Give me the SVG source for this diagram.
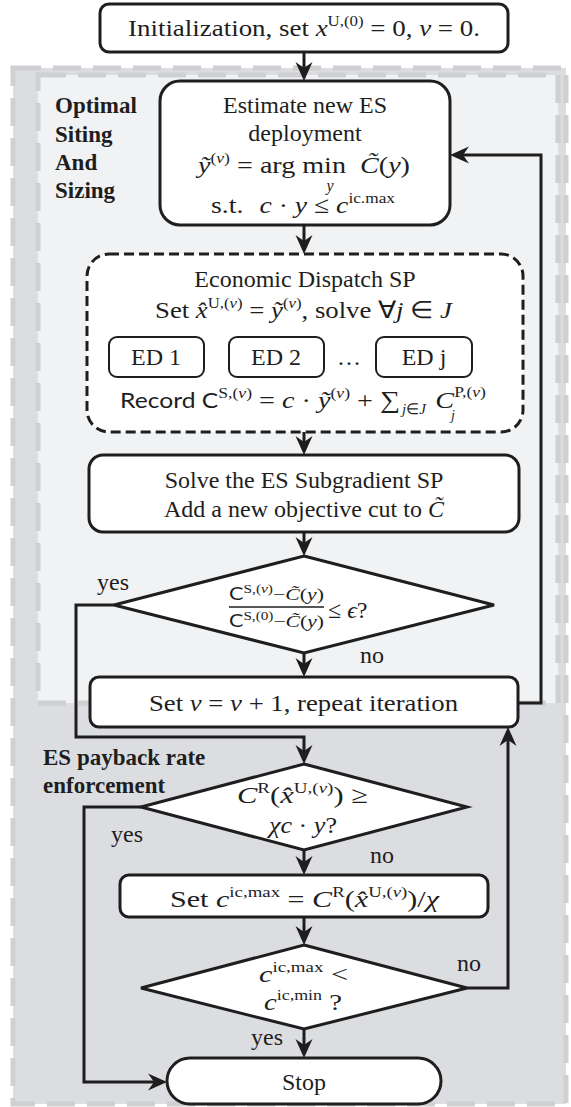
<svg xmlns="http://www.w3.org/2000/svg" width="571" height="1107" viewBox="0 0 571 1107">
<defs>
<style>
.t{font-family:"Liberation Serif",serif;font-size:24px;fill:#1e1e1e}
.i{font-style:italic}
.sup{font-size:15px}
.lbl{font-family:"Liberation Serif",serif;font-size:23px;font-weight:bold;fill:#1e1e1e}
.sans{font-family:Lato,"Liberation Sans",sans-serif}
.box{fill:#fff;stroke:#1e1e1e;stroke-width:3}
.edb{fill:#fff;stroke:#1e1e1e;stroke-width:2}
.conn{fill:none;stroke:#1e1e1e;stroke-width:3}
.rout{fill:#dcdde0;stroke:#cfd0d2;stroke-width:5;stroke-dasharray:28 12}
.rin{fill:#f1f2f4;stroke:#cfd0d2;stroke-width:5;stroke-dasharray:28 12}
</style>
<marker id="arr" viewBox="0 0 20 20" refX="12" refY="10" markerWidth="20" markerHeight="20" markerUnits="userSpaceOnUse" orient="auto">
<path d="M20,10 L1,1.5 L7,10 L1,18.5 Z" fill="#1e1e1e"/>
</marker>
</defs>

<g id="regions">
<rect class="rout" x="13" y="68" width="553" height="1036"/>
<rect class="rin" x="38" y="75" width="520" height="628"/>
<text class="lbl" x="55" y="113">Optimal</text>
<text class="lbl" x="55" y="142">Siting</text>
<text class="lbl" x="55" y="170">And</text>
<text class="lbl" x="55" y="198">Sizing</text>
<text class="lbl" x="43" y="765">ES payback rate</text>
<text class="lbl" x="43" y="793">enforcement</text>
</g>

<g id="connectors">
<path class="conn" d="M304,52 V73" marker-end="url(#arr)"/>
<path class="conn" d="M304,225 V246" marker-end="url(#arr)"/>
<path class="conn" d="M304,432 V447" marker-end="url(#arr)"/>
<path class="conn" d="M304,532 V548" marker-end="url(#arr)"/>
<path class="conn" d="M304,653 V669" marker-end="url(#arr)"/>
<path class="conn" d="M114,605 H76 V737 H304 V756" marker-end="url(#arr)"/>
<path class="conn" d="M518,703 H541 V155 H458" marker-end="url(#arr)"/>
<path class="conn" d="M304,850 V867" marker-end="url(#arr)"/>
<path class="conn" d="M304,917 V937" marker-end="url(#arr)"/>
<path class="conn" d="M304,1029 V1050" marker-end="url(#arr)"/>
<path class="conn" d="M141,807 H84 V1082 H159" marker-end="url(#arr)"/>
<path class="conn" d="M467,988 H508 V735" marker-end="url(#arr)"/>
<text class="t" x="97" y="590">yes</text>
<text class="t" x="360" y="663">no</text>
<text class="t" x="111" y="842">yes</text>
<text class="t" x="370" y="863">no</text>
<text class="t" x="251" y="1045">yes</text>
<text class="t" x="457" y="971">no</text>
</g>

<g id="n-init">
<rect class="box" x="100" y="4" width="408" height="48" rx="9"/>
<text class="t" x="128" y="36" textLength="352" lengthAdjust="spacingAndGlyphs">Initialization, set <tspan class="i">x</tspan><tspan class="sup" dy="-10">U,(0)</tspan><tspan dy="10"> = 0, </tspan><tspan class="i">ν</tspan> = 0.</text>
</g>

<g id="n-estimate">
<rect class="box" x="160" y="81" width="290" height="144" rx="20"/>
<text class="t" x="305" y="113" text-anchor="middle">Estimate new ES</text>
<text class="t" x="305" y="141" text-anchor="middle">deployment</text>
<text class="t" x="198" y="173" textLength="212" lengthAdjust="spacingAndGlyphs"><tspan class="i">ỹ</tspan><tspan class="sup" dy="-10">(<tspan class="i">ν</tspan>)</tspan><tspan dy="10"> = arg min </tspan><tspan class="i" dx="6">C̃</tspan>(<tspan class="i">y</tspan>)</text>
<text class="t i" x="330" y="191" style="font-size:16px" text-anchor="middle">y</text>
<text class="t" x="211" y="213" textLength="184" lengthAdjust="spacingAndGlyphs">s.t. <tspan class="i" dx="8">c</tspan> · <tspan class="i">y</tspan> ≤ <tspan class="i">c</tspan><tspan class="sup" dy="-10">ic.max</tspan></text>
</g>

<g id="n-ed">
<rect x="87" y="254" width="436" height="178" rx="22" fill="#fff" stroke="#1e1e1e" stroke-width="3" stroke-dasharray="10 5"/>
<text class="t" x="305" y="287" text-anchor="middle">Economic Dispatch SP</text>
<text class="t" x="155" y="318" textLength="297" lengthAdjust="spacingAndGlyphs">Set <tspan class="i">x̂</tspan><tspan class="sup" dy="-10">U,(<tspan class="i">ν</tspan>)</tspan><tspan dy="10"> = </tspan><tspan class="i">ỹ</tspan><tspan class="sup" dy="-10">(<tspan class="i">ν</tspan>)</tspan><tspan dy="10">, solve ∀</tspan><tspan class="i">j</tspan> ∈ <tspan class="i">J</tspan></text>
<text class="t" x="349" y="365" text-anchor="middle">…</text>
<text class="t" x="120" y="408" textLength="366" lengthAdjust="spacingAndGlyphs"><tspan class="sans" style="font-size:21px">Record C</tspan><tspan class="sup" dy="-10">S,(<tspan class="i">ν</tspan>)</tspan><tspan dy="10"> = </tspan><tspan class="i">c</tspan> · <tspan class="i">ỹ</tspan><tspan class="sup" dy="-10">(<tspan class="i">ν</tspan>)</tspan><tspan dy="10"> + ∑</tspan><tspan class="i" dx="30">C</tspan><tspan class="sup" dy="-11">P,(<tspan class="i">ν</tspan>)</tspan></text>
<text class="t" x="402" y="414" style="font-size:15px"><tspan class="i">j</tspan>∈<tspan class="i">J</tspan></text>
<text class="t i" x="451" y="420" style="font-size:14px">j</text>
</g>
<g id="n-ed1">
<rect class="edb" x="109" y="337" width="95" height="40" rx="8"/>
<text class="t" x="156" y="365" text-anchor="middle">ED 1</text>
</g>
<g id="n-ed2">
<rect class="edb" x="229" y="337" width="95" height="40" rx="8"/>
<text class="t" x="276" y="365" text-anchor="middle">ED 2</text>
</g>
<g id="n-edj">
<rect class="edb" x="376" y="337" width="96" height="40" rx="8"/>
<text class="t" x="424" y="365" text-anchor="middle">ED j</text>
</g>

<g id="n-subgrad">
<rect class="box" x="89" y="455" width="430" height="77" rx="14"/>
<text class="t" x="304" y="488" text-anchor="middle">Solve the ES Subgradient SP</text>
<text class="t" x="304" y="517" text-anchor="middle">Add a new objective cut to <tspan class="i">C̃</tspan></text>
</g>

<g id="n-conv">
<polygon class="box" points="304,556 494,605 304,653 114,605"/>
<text class="t" x="229" y="600" style="font-size:17px" textLength="95" lengthAdjust="spacingAndGlyphs"><tspan class="sans">C</tspan><tspan style="font-size:12px" dy="-7">S,(<tspan class="i">ν</tspan>)</tspan><tspan dy="7">−</tspan><tspan class="i">C̃</tspan>(<tspan class="i">y</tspan>)</text>
<line x1="229" y1="607" x2="324" y2="607" stroke="#1e1e1e" stroke-width="1.5"/>
<text class="t" x="229" y="627" style="font-size:17px" textLength="95" lengthAdjust="spacingAndGlyphs"><tspan class="sans">C</tspan><tspan style="font-size:12px" dy="-7">S,(0)</tspan><tspan dy="7">−</tspan><tspan class="i">C̃</tspan>(<tspan class="i">y</tspan>)</text>
<text class="t" x="328" y="618">≤ <tspan class="i">ϵ</tspan>?</text>
</g>

<g id="n-iter">
<rect class="box" x="90" y="677" width="428" height="50" rx="9"/>
<text class="t" x="149" y="711" textLength="309" lengthAdjust="spacingAndGlyphs">Set <tspan class="i">ν</tspan> = <tspan class="i">ν</tspan> + 1, repeat iteration</text>
</g>

<g id="n-payback">
<polygon class="box" points="304,764 467,807 304,850 141,807"/>
<text class="t" x="237" y="803" textLength="131" lengthAdjust="spacingAndGlyphs"><tspan class="i">C</tspan><tspan class="sup" dy="-10">R</tspan><tspan dy="10">(</tspan><tspan class="i">x̂</tspan><tspan class="sup" dy="-10">U,(<tspan class="i">ν</tspan>)</tspan><tspan dy="10">) ≥</tspan></text>
<text class="t" x="269" y="833" textLength="68" lengthAdjust="spacingAndGlyphs"><tspan class="i">χc</tspan> · <tspan class="i">y</tspan>?</text>
</g>

<g id="n-setcap">
<rect class="box" x="120" y="875" width="368" height="42" rx="9"/>
<text class="t" x="170" y="907" textLength="269" lengthAdjust="spacingAndGlyphs">Set <tspan class="i">c</tspan><tspan class="sup" dy="-10">ic,max</tspan><tspan dy="10"> = </tspan><tspan class="i">C</tspan><tspan class="sup" dy="-10">R</tspan><tspan dy="10">(</tspan><tspan class="i">x̂</tspan><tspan class="sup" dy="-10">U,(<tspan class="i">ν</tspan>)</tspan><tspan dy="10">)/</tspan><tspan class="i">χ</tspan></text>
</g>

<g id="n-capcheck">
<polygon class="box" points="304,945 467,988 304,1029 141,988"/>
<text class="t" x="259" y="982" textLength="89" lengthAdjust="spacingAndGlyphs"><tspan class="i">c</tspan><tspan class="sup" dy="-10">ic,max</tspan><tspan dy="10"> &lt;</tspan></text>
<text class="t" x="264" y="1010" textLength="78" lengthAdjust="spacingAndGlyphs"><tspan class="i">c</tspan><tspan class="sup" dy="-10">ic,min</tspan><tspan dy="10"> ?</tspan></text>
</g>

<g id="n-stop">
<rect class="box" x="167" y="1058" width="274" height="46" rx="23"/>
<text class="t" x="304" y="1090" text-anchor="middle">Stop</text>
</g>
</svg>
